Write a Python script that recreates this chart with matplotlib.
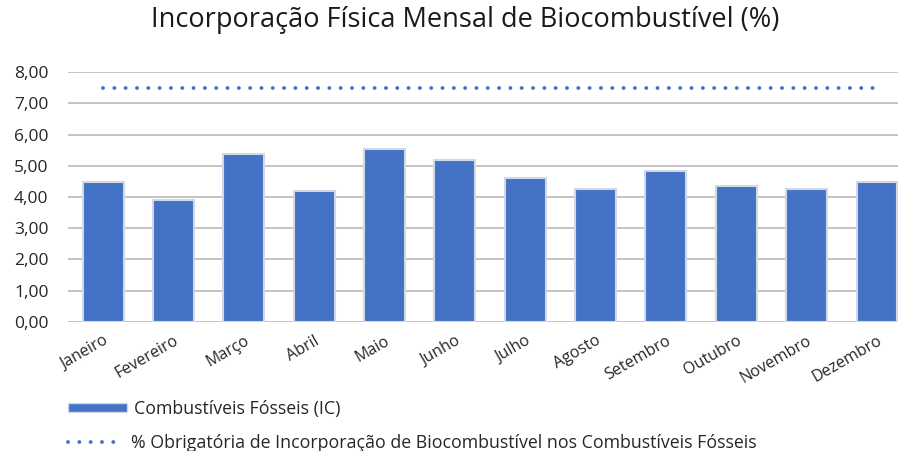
import matplotlib.pyplot as plt
from matplotlib.patches import Patch
from matplotlib.lines import Line2D

meses = ['Janeiro', 'Fevereiro', 'Março', 'Abril', 'Maio', 'Junho',
         'Julho', 'Agosto', 'Setembro', 'Outubro', 'Novembro', 'Dezembro']
incorporacao = [4.49, 3.90, 5.39, 4.20, 5.53, 5.20,
                4.60, 4.26, 4.83, 4.36, 4.26, 4.49]
obrigatoria = [7.5] * 12
y_ticks = [0, 1, 2, 3, 4, 5, 6, 7, 8]

plt.rcParams['font.family'] = ['Open Sans', 'DejaVu Sans']

fig = plt.figure(figsize=(8.98, 4.51), dpi=100)
ax = fig.add_axes([0.0757, 0.2867, 0.94, 0.553])

cor = '#4472C4'
pontos = (0, (0.01, 2.9))
x = list(range(len(meses)))
ax.bar(x, incorporacao, width=0.58, color=cor, edgecolor='#D0D7E5', linewidth=1.5, zorder=3)
ax.plot(x, obrigatoria, linestyle=pontos, color=cor, linewidth=2.8,
        dash_capstyle='round', zorder=4)

ax.set_xlim(-0.5, 11.5)
ax.set_ylim(0, 8)
ax.set_yticks(y_ticks)
ax.set_yticklabels([f'{v:.2f}'.replace('.', ',') for v in y_ticks], fontsize=12.5, color='#262626')
ax.set_xticks(x)
ax.set_xticklabels(meses, rotation=30, ha='right', rotation_mode='anchor', fontsize=11.5, color='#262626')
ax.tick_params(axis='y', length=0, pad=14)
ax.tick_params(axis='x', length=0, pad=8)
ax.grid(axis='y', color='#BFBFBF', linewidth=1.3, zorder=0)
for s in ax.spines.values():
    s.set_visible(False)

fig.text(0.518, 0.955, 'Incorporação Física Mensal de Biocombustível (%)',
         ha='center', va='center', fontsize=19.5, color='#1a1a1a')

# legenda em duas linhas, posicionadas uma a uma
fonte_leg = {'family': ['Open Sans', 'DejaVu Sans'], 'size': 12.8}
leg1 = fig.legend([Patch(facecolor=cor, edgecolor='#D0D7E5')],
                  ['Combustíveis Fósseis (IC)'],
                  loc='center left', bbox_to_anchor=(0.0757, 0.0931),
                  frameon=False, borderpad=0, borderaxespad=0,
                  handlelength=3.3, handleheight=0.4, handletextpad=0.4,
                  prop=fonte_leg, labelcolor='#262626')
leg2 = fig.legend([Line2D([0], [0], linestyle=pontos, color=cor, linewidth=2.8,
                          dash_capstyle='round')],
                  ['% Obrigatória de Incorporação de Biocombustível nos Combustíveis Fósseis'],
                  loc='center left', bbox_to_anchor=(0.0757, 0.0175),
                  frameon=False, borderpad=0, borderaxespad=0,
                  handlelength=3.0, handletextpad=0.55,
                  prop=fonte_leg, labelcolor='#262626')

plt.savefig('out.png', dpi=100)
